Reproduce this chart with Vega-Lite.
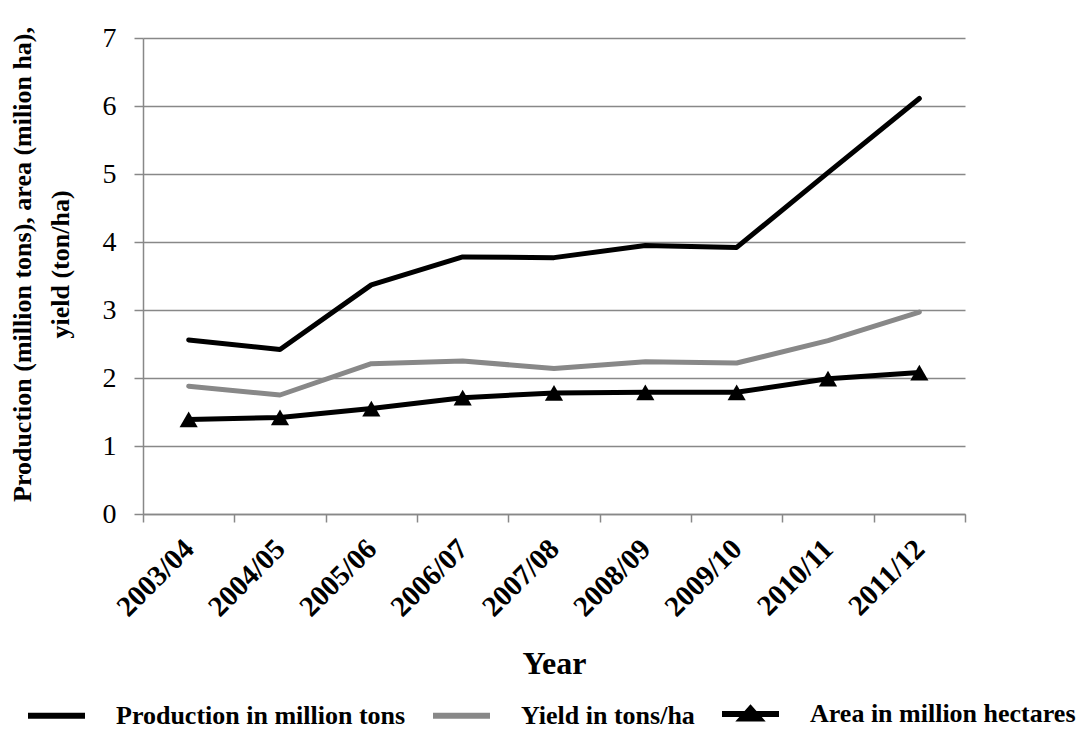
{
  "$schema": "https://vega.github.io/schema/vega-lite/v6.json",
  "width": 822,
  "height": 476,
  "autosize": {"type": "none"},
  "padding": {"left": 143, "top": 38, "right": 124, "bottom": 215},
  "background": "white",
  "config": {
    "font": "Liberation Serif",
    "view": {"stroke": null}
  },
  "data": {
    "values": [
      {"year": "2003/04", "series": "Production in million tons", "value": 2.56},
      {"year": "2004/05", "series": "Production in million tons", "value": 2.42},
      {"year": "2005/06", "series": "Production in million tons", "value": 3.37},
      {"year": "2006/07", "series": "Production in million tons", "value": 3.78},
      {"year": "2007/08", "series": "Production in million tons", "value": 3.77},
      {"year": "2008/09", "series": "Production in million tons", "value": 3.95},
      {"year": "2009/10", "series": "Production in million tons", "value": 3.92},
      {"year": "2010/11", "series": "Production in million tons", "value": 5.02},
      {"year": "2011/12", "series": "Production in million tons", "value": 6.11},
      {"year": "2003/04", "series": "Yield in tons/ha", "value": 1.88},
      {"year": "2004/05", "series": "Yield in tons/ha", "value": 1.75},
      {"year": "2005/06", "series": "Yield in tons/ha", "value": 2.21},
      {"year": "2006/07", "series": "Yield in tons/ha", "value": 2.25},
      {"year": "2007/08", "series": "Yield in tons/ha", "value": 2.14},
      {"year": "2008/09", "series": "Yield in tons/ha", "value": 2.24},
      {"year": "2009/10", "series": "Yield in tons/ha", "value": 2.22},
      {"year": "2010/11", "series": "Yield in tons/ha", "value": 2.55},
      {"year": "2011/12", "series": "Yield in tons/ha", "value": 2.97},
      {"year": "2003/04", "series": "Area in million hectares", "value": 1.39},
      {"year": "2004/05", "series": "Area in million hectares", "value": 1.42},
      {"year": "2005/06", "series": "Area in million hectares", "value": 1.55},
      {"year": "2006/07", "series": "Area in million hectares", "value": 1.71},
      {"year": "2007/08", "series": "Area in million hectares", "value": 1.78},
      {"year": "2008/09", "series": "Area in million hectares", "value": 1.79},
      {"year": "2009/10", "series": "Area in million hectares", "value": 1.79},
      {"year": "2010/11", "series": "Area in million hectares", "value": 1.99},
      {"year": "2011/12", "series": "Area in million hectares", "value": 2.08}
    ]
  },
  "encoding": {
    "x": {
      "field": "year",
      "type": "nominal",
      "bandPosition": 0.5,
      "scale": {"type": "band", "paddingInner": 0, "paddingOuter": 0},
      "axis": {
        "title": "Year",
        "titleFontSize": 32,
        "titleFontWeight": "bold",
        "titleColor": "black",
        "titlePadding": 27,
        "labelAngle": -45,
        "labelAlign": "right",
        "labelBaseline": "middle",
        "labelFontSize": 29,
        "labelFontWeight": "bold",
        "labelColor": "black",
        "labelPadding": 22,
        "labelOffset": 0,
        "tickBand": "extent",
        "tickSize": 8,
        "tickColor": "#888888",
        "tickWidth": 1.5,
        "domainColor": "#888888",
        "domainWidth": 1.5,
        "grid": false
      }
    },
    "y": {
      "field": "value",
      "type": "quantitative",
      "scale": {"domain": [0, 7], "nice": false},
      "axis": {
        "title": ["Production (million tons), area (milion ha),", "yield (ton/ha)"],
        "titleFontSize": 26,
        "titleFontWeight": "bold",
        "titleColor": "black",
        "titleLineHeight": 38,
        "titlePadding": 29,
        "titleY": 226,
        "values": [0, 1, 2, 3, 4, 5, 6, 7],
        "labelFontSize": 28,
        "labelColor": "black",
        "labelPadding": 18,
        "tickSize": 9,
        "tickColor": "#888888",
        "tickWidth": 1.5,
        "domainColor": "#888888",
        "domainWidth": 1.5,
        "grid": true,
        "gridColor": "#888888",
        "gridWidth": 1.5
      }
    }
  },
  "layer": [
    {
      "mark": {"type": "line", "strokeWidth": 5, "strokeCap": "round", "strokeJoin": "round"},
      "encoding": {
        "color": {
          "field": "series",
          "type": "nominal",
          "scale": {
            "domain": ["Production in million tons", "Yield in tons/ha", "Area in million hectares"],
            "range": ["#000000", "#888888", "#000000"]
          },
          "legend": {
            "title": null,
            "orient": "none",
            "direction": "horizontal",
            "legendX": -118,
            "legendY": 644,
            "padding": 0,
            "labelFont": "Liberation Serif",
            "labelFontSize": 26,
            "labelFontWeight": "bold",
            "labelColor": "black",
            "labelLimit": 500,
            "labelOffset": 28,
            "columnPadding": 15,
            "symbolSize": 3249,
            "symbolStrokeWidth": 6,
            "encode": {
              "symbols": {
                "update": {
                  "shape": {"signal": "datum.value === 'Area in million hectares' ? 'M-1,0L1,0M-0.3,0.16L0,-0.18L0.3,0.16Z' : 'M-1,0L1,0'"},
                  "fill": {"signal": "datum.value === 'Area in million hectares' ? 'black' : 'transparent'"},
                  "strokeWidth": {"value": 6}
                }
              }
            }
          }
        },
        "detail": {"field": "series"}
      }
    },
    {
      "transform": [{"filter": "datum.series === 'Area in million hectares'"}],
      "mark": {"type": "point", "shape": "triangle-up", "filled": true, "color": "black", "size": 330, "opacity": 1}
    }
  ]
}
